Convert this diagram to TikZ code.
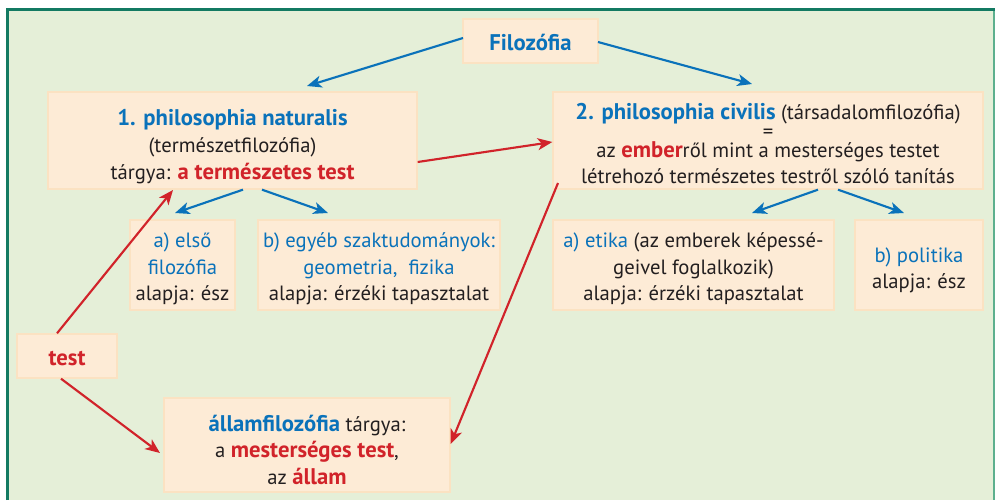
\documentclass[tikz,border=0pt]{standalone}
\usepackage{fontspec}
\setmainfont{PT Sans}
\usetikzlibrary{arrows.meta}
\definecolor{bgg}{HTML}{E5EFD8}
\definecolor{frameg}{HTML}{137A62}
\definecolor{framel}{HTML}{5DB08E}
\definecolor{boxf}{HTML}{FDEBD6}
\definecolor{boxd}{HTML}{FBE2C2}
\definecolor{bl}{HTML}{0A72BA}
\definecolor{rd}{HTML}{D1232A}
\definecolor{tx}{HTML}{231F20}
\tikzset{
  box/.style={draw=boxd, line width=1pt, fill=boxf, inner sep=0pt},
  txt/.style={inner sep=0pt, text=tx, align=center, font=\fontsize{15.5}{20}\selectfont},
  barrow/.style={draw=bl, line width=1.6pt, -{Stealth[length=11pt,width=9pt,inset=3pt]}},
  rarrow/.style={draw=rd, line width=1.6pt, -{Stealth[length=11pt,width=9pt,inset=3pt]}},
}
\newcommand{\bfx}[1]{{\fontsize{17}{20}\selectfont\bfseries #1}}
\newcommand{\bb}[1]{\textcolor{bl}{\bfx{#1}}}
\newcommand{\rb}[1]{\textcolor{rd}{\bfx{#1}}}
\newcommand{\bn}[1]{\textcolor{bl}{#1}}
\begin{document}
\begin{tikzpicture}[x=0.75pt,y=-0.75pt]
\useasboundingbox (0,0) rectangle (995,500);
\fill[bgg] (7,9) rectangle (994,500);
\draw[framel, line width=1.2pt] (994,9) -- (994,500);
\draw[frameg, line width=2.4pt] (7.5,500) -- (7.5,9.5) -- (994.5,9.5);

% boxes
\node[box, minimum width=135*0.75pt, minimum height=44*0.75pt] (fil) at (530.5,41) {};
\node[box, minimum width=369*0.75pt, minimum height=97*0.75pt] (n1) at (232.5,140.5) {};
\node[box, minimum width=430*0.75pt, minimum height=97*0.75pt] (n2) at (768,140.5) {};
\node[box, minimum width=105*0.75pt, minimum height=90*0.75pt] (a1) at (182.5,265) {};
\node[box, minimum width=242*0.75pt, minimum height=90*0.75pt] (b1) at (379,265) {};
\node[box, minimum width=281*0.75pt, minimum height=90*0.75pt] (a2) at (693.5,265) {};
\node[box, minimum width=128*0.75pt, minimum height=90*0.75pt] (b2) at (919,265) {};
\node[box, minimum width=100*0.75pt, minimum height=44*0.75pt] (test) at (67,356) {};
\node[box, minimum width=286*0.75pt, minimum height=94*0.75pt] (all) at (307,445) {};

% texts
\node[txt] (filt) at ([yshift=-1pt]fil.center) {\bb{Filozófia}};
\node[txt] (n1t) at ([yshift=-4.5pt]n1.center)
  {\bb{1. philosophia naturalis}\\(természetfilozófia)\\tárgya: \rb{a természetes test}};
\node[txt] (n2t) at ([yshift=-2.5pt]n2.center)
  {\bb{2. philosophia civilis} (társadalomfilozófia)\\[-6pt]=\\[-6pt]az \rb{ember}ről mint a mesterséges testet\\létrehozó természetes testről szóló tanítás};
\node[txt] (a1t) at ([yshift=-3pt]a1.center)
  {\bn{a) első}\\\bn{filozófia}\\alapja: ész};
\node[txt] (b1t) at ([yshift=-3pt]b1.center)
  {\bn{b) egyéb szaktudományok:}\\\bn{geometria,\ \ fizika}\\alapja: érzéki tapasztalat};
\node[txt] (a2t) at ([yshift=-3pt]a2.center)
  {\bn{a) etika} (az emberek képessé-\\geivel foglalkozik)\\alapja: érzéki tapasztalat};
\node[txt] (b2t) at ([yshift=-4pt]b2.center)
  {\bn{b) politika}\\alapja: ész};
\node[txt] (testt) at ([yshift=-2pt]test.center) {\rb{test}};
\node[txt] (allt) at ([yshift=-3.5pt]all.center)
  {\bb{államfilozófia} tárgya:\\a \rb{mesterséges test},\\az \rb{állam}};

% connectors
\coordinate (f1s) at (463,38);
\coordinate (f1e) at (307,86);
\coordinate (f2s) at (598,42);
\coordinate (f2e) at (752,84);
\draw[barrow] (f1s) -- (f1e);
\draw[barrow] (f2s) -- (f2e);
\draw[barrow] (n1.south -| 243,0) -- (175,213);
\draw[barrow] (n1.south -| 262,0) -- (328,213);
\draw[barrow] (n2.south -| 818,0) -- (752,213);
\draw[barrow] (n2.south -| 838,0) -- (904,213);
\draw[rarrow] (n1.east |- 0,162) -- (n2.west |- 0,142);
\draw[rarrow] (test.north -| 57,0) -- (173,190);
\draw[rarrow] (test.south -| 61,0) -- (160,453);
\draw[rarrow] (558,183) -- (all.east |- 0,444);
\end{tikzpicture}
\end{document}
